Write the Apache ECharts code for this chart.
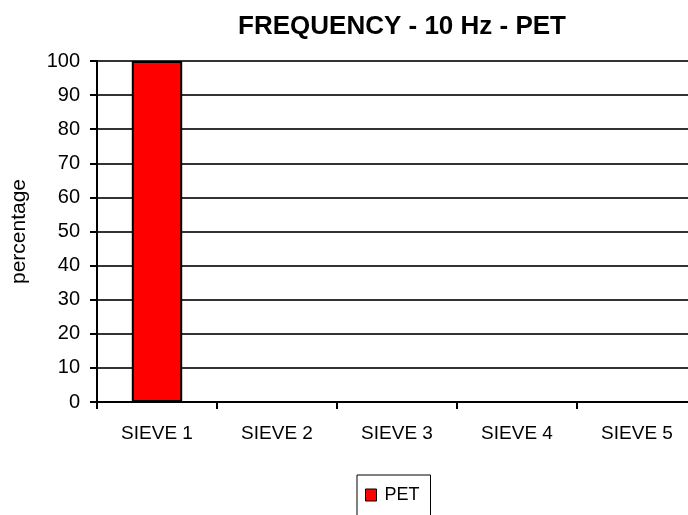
<!DOCTYPE html>
<html>
<head>
<meta charset="utf-8">
<script src="https://cdn.jsdelivr.net/npm/echarts@6/dist/echarts.min.js"></script>
<style>
  html, body { margin: 0; padding: 0; background: #fff; }
  #chart { width: 688px; height: 515px; }
</style>
</head>
<body>
<div id="chart"></div>
<script>
// data
const categories = ['SIEVE 1', 'SIEVE 2', 'SIEVE 3', 'SIEVE 4', 'SIEVE 5'];
const petValues = [100, 0, 0, 0, 0];
const yTicks = { min: 0, max: 100, interval: 10 };

const FONT = 'Liberation Sans, Arial';
const chart = echarts.init(document.getElementById('chart'));

const option = {
    animation: false,
    title: {
        text: 'FREQUENCY - 10 Hz - PET',
        left: 397,
        textAlign: 'center',
        top: 9,
        textStyle: { fontFamily: FONT, fontSize: 26, fontWeight: 'bold', color: '#000' }
    },
    // plot runs past the right edge, like the cropped original
    grid: { left: 97, top: 61, width: 600, height: 341, outerBoundsMode: 'none', containLabel: false },
    legend: {
        top: 475,
        left: 357,
        padding: [11, 11, 24, 8],
        borderColor: '#000',
        borderWidth: 1,
        itemWidth: 11,
        itemHeight: 12,
        textStyle: { fontFamily: FONT, fontSize: 18, color: '#000', padding: [0, 0, 0, 3] },
        data: [{ name: 'PET', icon: 'rect', itemStyle: { borderColor: '#000', borderWidth: 1 } }]
    },
    xAxis: {
        type: 'category',
        data: categories,
        axisLine: { lineStyle: { color: '#000', width: 2 } },
        axisTick: { show: true, length: 7, lineStyle: { color: '#000', width: 2 } },
        axisLabel: { margin: 22, fontFamily: FONT, fontSize: 19, color: '#000' },
        splitLine: { show: false }
    },
    yAxis: {
        type: 'value',
        min: yTicks.min,
        max: yTicks.max,
        interval: yTicks.interval,
        name: 'percentage',
        nameLocation: 'middle',
        nameGap: 67,
        nameTextStyle: { fontFamily: FONT, fontSize: 21, color: '#000' },
        axisLine: { show: true, lineStyle: { color: '#000', width: 2 } },
        axisTick: { show: true, inside: false, length: 7, lineStyle: { color: '#000', width: 2 } },
        axisLabel: { margin: 17, fontFamily: FONT, fontSize: 20, color: '#000' },
        splitLine: { show: true, lineStyle: { color: '#333', width: 2 } }
    },
    series: [{
        name: 'PET',
        type: 'bar',
        data: petValues,
        barWidth: '42%',
        itemStyle: { color: '#ff0000', borderColor: '#000', borderWidth: 2 }
    }]
};

chart.setOption(option);
</script>
</body>
</html>
